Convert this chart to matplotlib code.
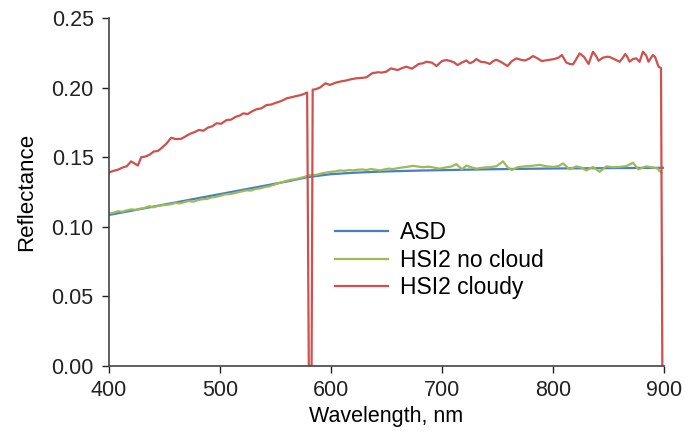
import matplotlib
matplotlib.use("Agg")
import matplotlib.pyplot as plt

# ---------------- data ----------------
asd_wl = [400, 420, 440, 460, 480, 500, 520, 540, 560, 580, 600, 620, 640, 660,
          680, 700, 720, 740, 760, 780, 800, 820, 840, 860, 880, 900]
asd_ref = [0.1085, 0.1115, 0.1145, 0.1175, 0.1205, 0.1235, 0.1265, 0.1295, 0.1325,
           0.1358, 0.1378, 0.1388, 0.1395, 0.1400, 0.1404, 0.1407, 0.1410, 0.1413,
           0.1415, 0.1417, 0.1419, 0.1420, 0.1421, 0.1422, 0.1423, 0.1424]

nocloud_wl = [400, 404, 408, 412, 416, 420, 424, 428, 432, 436, 440, 444, 448, 452,
              456, 460, 464, 468, 472, 476, 480, 484, 488, 492, 496, 500, 504, 508,
              512, 516, 520, 524, 528, 532, 536, 540, 544, 548, 552, 556, 560, 564,
              568, 572, 576, 580, 584, 588, 592, 596, 600, 604, 608, 612, 616, 620,
              624, 628, 632, 636, 640, 644, 648, 652, 656, 662, 668, 674, 679, 683,
              688, 693, 698, 703, 708, 713, 718, 722, 726, 731, 737, 743, 749, 755,
              759, 763, 768, 773, 778, 783, 788, 794, 800, 805, 809, 815, 821, 826,
              830, 836, 842, 848, 854, 860, 866, 872, 877, 884, 890, 894, 896, 898]
nocloud_ref = [0.1095, 0.1100, 0.1112, 0.1108, 0.1118, 0.1125, 0.1122, 0.1130, 0.1135,
               0.1148, 0.1140, 0.1150, 0.1155, 0.1158, 0.1162, 0.1172, 0.1168, 0.1178,
               0.1185, 0.1180, 0.1192, 0.1198, 0.1200, 0.1210, 0.1215, 0.1222, 0.1232,
               0.1235, 0.1240, 0.1248, 0.1255, 0.1262, 0.1260, 0.1272, 0.1276, 0.1285,
               0.1290, 0.1300, 0.1312, 0.1320, 0.1330, 0.1338, 0.1342, 0.1350, 0.1358,
               0.1370, 0.1372, 0.1375, 0.1385, 0.1390, 0.1395, 0.1398, 0.1405, 0.1402,
               0.1408, 0.1405, 0.1410, 0.1412, 0.1408, 0.1415, 0.1410, 0.1405, 0.1412,
               0.1418, 0.1415, 0.1424, 0.1430, 0.1438, 0.1432, 0.1428, 0.1432, 0.1425,
               0.1418, 0.1426, 0.1432, 0.1450, 0.1413, 0.1440, 0.1428, 0.1418, 0.1425,
               0.1428, 0.1435, 0.1470, 0.1428, 0.1408, 0.1428, 0.1433, 0.1436, 0.1440,
               0.1445, 0.1435, 0.1430, 0.1436, 0.1455, 0.1413, 0.1434, 0.1424, 0.1405,
               0.1430, 0.1395, 0.1434, 0.1428, 0.1430, 0.1436, 0.1460, 0.1413, 0.1434,
               0.1426, 0.1420, 0.1400, 0.1388]

cloudy_wl = [400, 404, 408, 412, 416, 420, 423, 426, 429, 433, 437, 440, 444, 448,
             452, 456, 460, 465, 469, 473, 477, 481, 485, 489, 493, 497, 501, 506,
             510, 514, 518, 521, 525, 529, 533, 537, 542, 546, 550, 554, 557, 560,
             564, 568, 572, 575, 578.5, 580, 582.5, 583.5, 586, 590, 595, 599, 604,
             608, 613, 618, 623, 628, 632, 637, 642, 646, 650, 654, 660, 664, 668,
             673, 679, 683, 686, 691, 695, 700, 704, 708, 711,
             714, 718, 722, 725, 728, 731, 735, 739, 743, 746, 749, 753, 756, 759,
             763, 767, 771, 775, 779, 782, 786, 790, 793, 797, 801, 805, 808, 812,
             815, 818, 821, 824, 828, 832, 836, 839, 841, 845, 849, 851, 855, 860,
             863, 865, 867, 869, 872, 875, 878, 881, 884, 886, 888, 890, 892, 895,
             897.3, 898.5]
cloudy_ref = [0.1390, 0.1402, 0.1410, 0.1425, 0.1435, 0.1470, 0.1455, 0.1440, 0.1500,
              0.1505, 0.1520, 0.1540, 0.1545, 0.1570, 0.1600, 0.1640, 0.1630, 0.1632,
              0.1650, 0.1668, 0.1680, 0.1696, 0.1690, 0.1712, 0.1722, 0.1744, 0.1740,
              0.1767, 0.1770, 0.1790, 0.1800, 0.1815, 0.1810, 0.1830, 0.1845, 0.1850,
              0.1875, 0.1878, 0.1890, 0.1900, 0.1910, 0.1923, 0.1930, 0.1938, 0.1945,
              0.1952, 0.1965, 0.0, 0.0, 0.1985, 0.1988, 0.2000, 0.2031, 0.2019, 0.2035,
              0.2043, 0.2050, 0.2060, 0.2067, 0.2070, 0.2074, 0.2103, 0.2110, 0.2108,
              0.2115, 0.2138, 0.2126, 0.2140, 0.2150, 0.2136, 0.2170, 0.2175, 0.2186,
              0.2179, 0.2155, 0.2191, 0.2198, 0.2190, 0.2180,
              0.2162, 0.2180, 0.2195, 0.2175, 0.2185, 0.2205, 0.2185, 0.2182,
              0.2170, 0.2190, 0.2200, 0.2185, 0.2170, 0.2155, 0.2190, 0.2210, 0.2200,
              0.2195, 0.2210, 0.2227, 0.2210, 0.2190, 0.2195, 0.2200, 0.2205, 0.2215,
              0.2234, 0.2180, 0.2170, 0.2167, 0.2205, 0.2246, 0.2220, 0.2170, 0.2258,
              0.2225, 0.2193, 0.2215, 0.2222, 0.2220, 0.2205, 0.2186, 0.2215, 0.2241,
              0.2220, 0.2186, 0.2205, 0.2210, 0.2185, 0.2258, 0.2230, 0.2186, 0.2210,
              0.2234, 0.2220, 0.2151, 0.2140, 0.0]

series_labels = ["ASD", "HSI2 no cloud", "HSI2 cloudy"]
x_ticks = [400, 500, 600, 700, 800, 900]
y_ticks = [0.00, 0.05, 0.10, 0.15, 0.20, 0.25]

# ---------------- plot ----------------
plt.rcParams['font.family'] = ['Liberation Sans', 'DejaVu Sans']

fig = plt.figure(figsize=(6.85, 4.36), dpi=100)
ax = fig.add_axes([109/685, 1 - 366/436, 555/685, 348/436])

ax.plot(asd_wl, asd_ref, color='#4A7EC4', lw=1.6, label=series_labels[0])
ax.plot(nocloud_wl, nocloud_ref, color='#9BBB59', lw=1.6, label=series_labels[1])
ax.plot(cloudy_wl, cloudy_ref, color='#D0504D', lw=1.6, label=series_labels[2])

ax.set_xlim(400, 900)
ax.set_ylim(0, 0.25)
ax.set_xticks(x_ticks)
ax.set_yticks(y_ticks)
ax.set_yticklabels([f"{v:.2f}" for v in y_ticks])
ax.tick_params(axis='both', direction='out', length=5, width=1, labelsize=15.5,
               colors='#222222')
ax.tick_params(axis='x', pad=5)
ax.tick_params(axis='y', pad=6)
for s in ['top', 'right']:
    ax.spines[s].set_visible(False)
for s in ['left', 'bottom']:
    ax.spines[s].set_color('#444444')
    ax.spines[s].set_linewidth(1.2)

ax.set_xlabel("Wavelength, nm", fontsize=15.5, labelpad=4)
ax.set_ylabel("Reflectance", fontsize=16, labelpad=10)

ax.legend(loc='upper left', bbox_to_anchor=(335/685, 1 - 221/436),
          bbox_transform=fig.transFigure, frameon=False, fontsize=16.5,
          borderpad=0, borderaxespad=0, handlelength=2.3, handletextpad=0.55,
          labelspacing=0.2)

fig.savefig("out.png", dpi=100)
